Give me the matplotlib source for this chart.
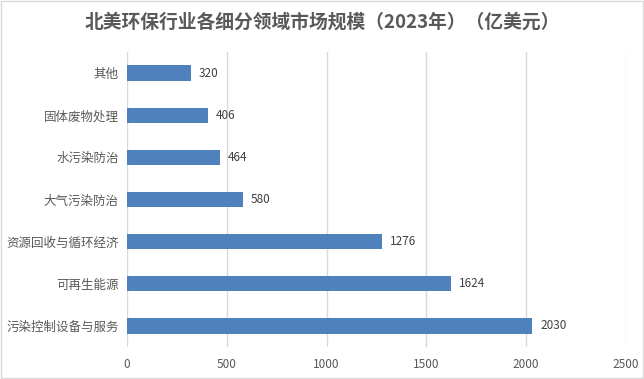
import matplotlib
matplotlib.use("Agg")
import matplotlib.pyplot as plt
from matplotlib.patches import Rectangle

plt.rcParams['font.family'] = ['Noto Sans CJK SC', 'DejaVu Sans']

categories = ["其他", "固体废物处理", "水污染防治", "大气污染防治", "资源回收与循环经济", "可再生能源", "污染控制设备与服务"]
values = [320, 406, 464, 580, 1276, 1624, 2030]
xticks = [0, 500, 1000, 1500, 2000, 2500]
title = "北美环保行业各细分领域市场规模（2023年）（亿美元）"

text_color = "#595959"
bar_color = "#4F81BD"

fig = plt.figure(figsize=(6.44, 3.79), dpi=100)
ax = fig.add_axes([127/644, 1-347/379, (626-127)/644, (347-52)/379])

y = list(range(len(categories)))
ax.barh(y, values, height=0.36, color=bar_color, zorder=3)
ax.set_ylim(len(categories)-0.5, -0.5)
ax.set_xlim(0, 2500)
ax.set_xticks(xticks)
ax.set_xticklabels([str(t) for t in xticks])
ax.set_yticks(y)
ax.set_yticklabels(categories)
for yi, v in zip(y, values):
    ax.text(v + 40, yi, str(v), va='center', ha='left', fontsize=8.5, color="#404040")

ax.grid(axis='x', color="#D9D9D9", linewidth=1, zorder=0)
for s in ax.spines.values():
    s.set_visible(False)
ax.tick_params(axis='both', length=0, labelsize=8.5, colors=text_color)
ax.tick_params(axis='y', labelsize=9, pad=6)
ax.tick_params(axis='x', pad=8)

fig.text(0.5, 1-22/379, title, ha='center', va='center', fontsize=13.5, fontweight='bold', color=text_color)

fig.patches.append(Rectangle((0.001, 0.002), 0.997, 0.996, transform=fig.transFigure,
                             fill=False, edgecolor="#D9D9D9", linewidth=1))

fig.savefig("out.png", dpi=100)
